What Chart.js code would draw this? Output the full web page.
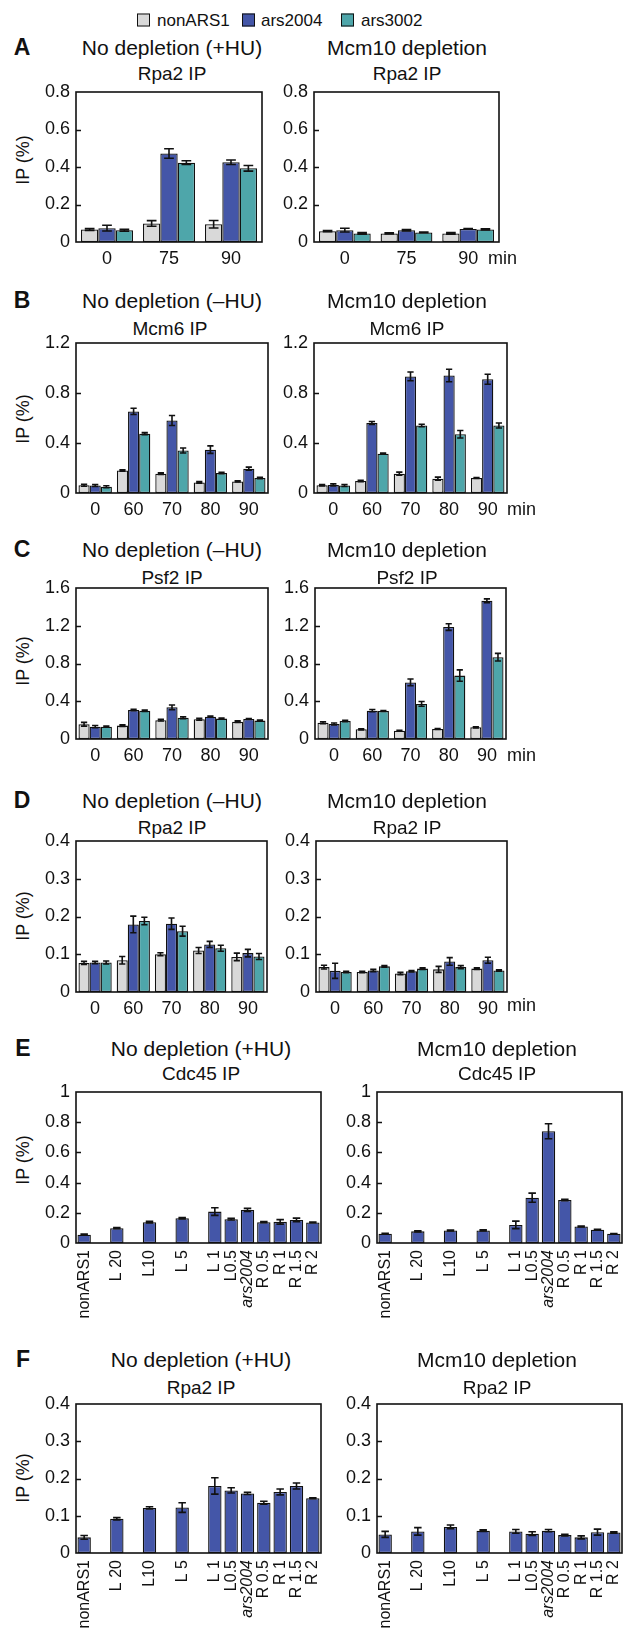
<!DOCTYPE html>
<html>
<head>
<meta charset="utf-8">
<script src="https://cdn.jsdelivr.net/npm/chart.js@4.4.0/dist/chart.umd.min.js"></script>
<style>
body{margin:0;width:623px;height:1631px;overflow:hidden;background:#fff;position:relative;font-family:"Liberation Sans",Arial,sans-serif;color:#111;}
.t{position:absolute;white-space:nowrap;transform:translate(-50%,-50%);line-height:1;}
.tl{position:absolute;white-space:nowrap;transform:translate(0,-50%);line-height:1;}
.title{font-size:21px;}
.sub{font-size:19px;}
.letter{font-size:23px;font-weight:bold;}
.yl{font-size:18px;transform:translate(-50%,-50%) rotate(-90deg);}
.sq{position:absolute;width:11px;height:11px;border:1.5px solid #111;transform:translate(0,-50%);}
canvas{position:absolute;}
</style>
</head>
<body>
<script>
// ---------- categories
const times3 = ['0', '75', '90'];
const times5 = ['0', '60', '70', '80', '90'];
const sites = ['nonARS1', 'L 20', 'L10', 'L 5', 'L 1', 'L0.5', 'ars2004', 'R 0.5', 'R 1', 'R 1.5', 'R 2'];
const siteSlots = [0, 2, 4, 6, 8, 9, 10, 11, 12, 13, 14];

// ---------- A : Rpa2 IP (+HU)
const aL_non = [0.067, 0.099, 0.095],  aL_nonErr = [0.005, 0.015, 0.02];
const aL_2004 = [0.074, 0.472, 0.425], aL_2004Err = [0.015, 0.025, 0.012];
const aL_3002 = [0.063, 0.423, 0.393], aL_3002Err = [0.005, 0.01, 0.015];
const aR_non = [0.058, 0.046, 0.046],  aR_nonErr = [0.003, 0.003, 0.004];
const aR_2004 = [0.063, 0.063, 0.07],  aR_2004Err = [0.01, 0.004, 0.002];
const aR_3002 = [0.046, 0.051, 0.067], aR_3002Err = [0.004, 0.002, 0.003];

// ---------- B : Mcm6 IP
const bL_non = [0.062, 0.18, 0.155, 0.085, 0.093],  bL_nonErr = [0.008, 0.006, 0.006, 0.006, 0.005];
const bL_2004 = [0.06, 0.653, 0.58, 0.347, 0.195],  bL_2004Err = [0.008, 0.025, 0.04, 0.03, 0.012];
const bL_3002 = [0.05, 0.475, 0.34, 0.16, 0.12],    bL_3002Err = [0.008, 0.008, 0.02, 0.005, 0.005];
const bR_non = [0.062, 0.096, 0.155, 0.115, 0.12],  bR_nonErr = [0.006, 0.006, 0.012, 0.012, 0.004];
const bR_2004 = [0.065, 0.56, 0.933, 0.94, 0.91],   bR_2004Err = [0.008, 0.012, 0.035, 0.05, 0.04];
const bR_3002 = [0.06, 0.315, 0.54, 0.47, 0.54],    bR_3002Err = [0.008, 0.004, 0.01, 0.03, 0.02];

// ---------- C : Psf2 IP
const cL_non = [0.156, 0.142, 0.2, 0.209, 0.184],   cL_nonErr = [0.02, 0.008, 0.01, 0.01, 0.008];
const cL_2004 = [0.131, 0.308, 0.336, 0.237, 0.212], cL_2004Err = [0.012, 0.008, 0.025, 0.006, 0.006];
const cL_3002 = [0.131, 0.3, 0.226, 0.216, 0.195],  cL_3002Err = [0.006, 0.008, 0.01, 0.006, 0.006];
const cR_non = [0.173, 0.103, 0.088, 0.106, 0.124], cR_nonErr = [0.01, 0.006, 0.005, 0.006, 0.006];
const cR_2004 = [0.16, 0.3, 0.6, 1.186, 1.465],     cR_2004Err = [0.01, 0.012, 0.035, 0.035, 0.02];
const cR_3002 = [0.19, 0.297, 0.372, 0.672, 0.867], cR_3002Err = [0.008, 0.005, 0.025, 0.06, 0.04];

// ---------- D : Rpa2 IP (-HU)
const dL_non = [0.077, 0.084, 0.1, 0.11, 0.093],    dL_nonErr = [0.004, 0.01, 0.004, 0.008, 0.01];
const dL_2004 = [0.078, 0.179, 0.181, 0.126, 0.103], dL_2004Err = [0.003, 0.022, 0.015, 0.008, 0.01];
const dL_3002 = [0.078, 0.188, 0.161, 0.116, 0.094], dL_3002Err = [0.004, 0.01, 0.013, 0.008, 0.008];
const dR_non = [0.066, 0.053, 0.049, 0.06, 0.062],  dR_nonErr = [0.005, 0.002, 0.003, 0.008, 0.002];
const dR_2004 = [0.056, 0.057, 0.055, 0.081, 0.084], dR_2004Err = [0.02, 0.003, 0.002, 0.01, 0.008];
const dR_3002 = [0.053, 0.068, 0.062, 0.066, 0.057], dR_3002Err = [0.002, 0.002, 0.002, 0.004, 0.002];

// ---------- E : Cdc45 IP, F : Rpa2 IP along ars2004
const eL = [0.055, 0.098, 0.138, 0.164, 0.208, 0.158, 0.219, 0.138, 0.14, 0.153, 0.136];
const eLErr = [0.004, 0.004, 0.005, 0.005, 0.025, 0.006, 0.01, 0.004, 0.015, 0.012, 0.002];
const eR = [0.061, 0.077, 0.083, 0.083, 0.12, 0.3, 0.74, 0.285, 0.11, 0.088, 0.061];
const eRErr = [0.003, 0.003, 0.003, 0.004, 0.025, 0.03, 0.05, 0.005, 0.003, 0.003, 0.002];
const fL = [0.042, 0.092, 0.121, 0.122, 0.18, 0.168, 0.16, 0.135, 0.164, 0.18, 0.147];
const fLErr = [0.005, 0.003, 0.003, 0.013, 0.022, 0.007, 0.003, 0.004, 0.008, 0.008, 0.001];
const fR = [0.05, 0.058, 0.07, 0.06, 0.058, 0.052, 0.06, 0.048, 0.042, 0.056, 0.055];
const fRErr = [0.008, 0.01, 0.005, 0.002, 0.005, 0.005, 0.003, 0.002, 0.004, 0.008, 0.002];

const GREY = '#d9d9d9', BLUE = '#4456a8', TEAL = '#4ea6aa', INK = '#111';
const FONT = '"Liberation Sans", Arial, sans-serif';

// ---------- text helpers
function txt(cls, s, x, y) {
    const d = document.createElement('div');
    d.className = cls;
    d.textContent = s;
    d.style.left = x + 'px';
    d.style.top = y + 'px';
    document.body.appendChild(d);
    return d;
}
function square(color, x, y) {
    const d = document.createElement('div');
    d.className = 'sq';
    d.style.background = color;
    d.style.left = x + 'px';
    d.style.top = y + 'px';
    document.body.appendChild(d);
}

// ---------- plugins: error bars + frame with inner ticks
const errorBars = {
    id: 'errorBars',
    afterDatasetsDraw(chart) {
        const ctx = chart.ctx, y = chart.scales.y;
        ctx.save();
        ctx.strokeStyle = INK;
        ctx.lineWidth = 1.6;
        chart.data.datasets.forEach((ds, di) => {
            const meta = chart.getDatasetMeta(di);
            ds.data.forEach((v, i) => {
                if (v == null || !ds.errors) return;
                const e = ds.errors[i], bar = meta.data[i];
                const cap = bar.width * 0.28;
                const y1 = y.getPixelForValue(v + e), y2 = y.getPixelForValue(v - e);
                ctx.beginPath();
                ctx.moveTo(bar.x, y1); ctx.lineTo(bar.x, y2);
                ctx.moveTo(bar.x - cap, y1); ctx.lineTo(bar.x + cap, y1);
                ctx.moveTo(bar.x - cap, y2); ctx.lineTo(bar.x + cap, y2);
                ctx.stroke();
            });
        });
        ctx.restore();
    }
};
const frame = {
    id: 'frame',
    afterDraw(chart) {
        const ctx = chart.ctx, a = chart.chartArea, y = chart.scales.y;
        ctx.save();
        ctx.strokeStyle = INK;
        ctx.lineWidth = 1.6;
        ctx.strokeRect(a.left, a.top, a.right - a.left, a.bottom - a.top);
        ctx.beginPath();
        y.ticks.forEach(t => {
            if (t.value <= y.min || t.value >= y.max) return;
            const py = Math.round(y.getPixelForValue(t.value)) + 0.5;
            ctx.moveTo(a.left, py); ctx.lineTo(a.left + 5, py);
        });
        ctx.stroke();
        ctx.restore();
    }
};

// ---------- one panel = one canvas whose chart area sits at the plot box
const YW = 60, PT = 14, PR = 3;
function makeChart(box, labels, datasets, yMax, step, opt) {
    const xh = opt.xh, rot = opt.rot || 0;
    const cv = document.createElement('canvas');
    cv.width = YW + box.w + PR;
    cv.height = PT + box.h + xh;
    cv.style.left = (box.x - YW) + 'px';
    cv.style.top = (box.y - PT) + 'px';
    document.body.appendChild(cv);
    return new Chart(cv.getContext('2d'), {
        type: 'bar',
        data: { labels: labels, datasets: datasets },
        options: {
            responsive: false,
            animation: false,
            layout: { padding: { top: PT, right: PR, left: 0, bottom: 0 } },
            datasets: { bar: { categoryPercentage: opt.cat, barPercentage: 1.0, borderWidth: 1.3, borderColor: INK, borderSkipped: false } },
            plugins: { legend: { display: false }, tooltip: { enabled: false } },
            scales: {
                x: {
                    grid: { display: false, drawTicks: false },
                    border: { display: false },
                    ticks: {
                        color: INK, autoSkip: false, maxRotation: rot, minRotation: rot, padding: opt.xpad || 6,
                        font: (c) => ({ family: FONT, size: opt.xfont || 18, style: (c.tick && c.tick.label === 'ars2004') ? 'italic' : 'normal' })
                    },
                    afterFit(s) { s.height = xh; s.paddingLeft = 0; s.paddingRight = 0; }
                },
                y: {
                    min: 0, max: yMax,
                    grid: { display: false, drawTicks: false },
                    border: { display: false },
                    ticks: { stepSize: step, color: INK, padding: 6, font: { family: FONT, size: 18 },
                             callback: (v) => String(+v.toFixed(2)) },
                    afterFit(s) { s.width = YW; s.paddingTop = 0; s.paddingBottom = 0; }
                }
            }
        },
        plugins: [errorBars, frame]
    });
}

function trio(non, nonErr, a2004, a2004Err, a3002, a3002Err) {
    return [
        { label: 'nonARS1', data: non, errors: nonErr, backgroundColor: GREY },
        { label: 'ars2004', data: a2004, errors: a2004Err, backgroundColor: BLUE },
        { label: 'ars3002', data: a3002, errors: a3002Err, backgroundColor: TEAL }
    ];
}

// site positions along the chromosome -> slot table for the category axis
const slotLabels = Array(15).fill('');
siteSlots.forEach((s, i) => { slotLabels[s] = sites[i]; });
function toSlots(arr) {
    const out = Array(15).fill(null);
    siteSlots.forEach((s, i) => { out[s] = arr[i]; });
    return out;
}
function single(vals, errs) {
    return [{ label: 'ars2004 region', data: toSlots(vals), errors: toSlots(errs), backgroundColor: BLUE }];
}

// ---------- legend
square(GREY, 137, 20); txt('tl', 'nonARS1', 157, 20).style.fontSize = '17px';
square(BLUE, 242, 20); txt('tl', 'ars2004', 261, 20).style.fontSize = '17px';
square(TEAL, 341, 20); txt('tl', 'ars3002', 361, 20).style.fontSize = '17px';

// ---------- A
txt('t letter', 'A', 22, 47);
txt('t title', 'No depletion (+HU)', 172, 47);
txt('t sub', 'Rpa2 IP', 172, 73);
txt('t title', 'Mcm10 depletion', 407, 47);
txt('t sub', 'Rpa2 IP', 407, 73);
txt('t yl', 'IP (%)', 23, 160);
makeChart({ x: 76, y: 92, w: 186, h: 150 }, times3, trio(aL_non, aL_nonErr, aL_2004, aL_2004Err, aL_3002, aL_3002Err), 0.8, 0.2, { xh: 30, cat: 0.84 });
makeChart({ x: 314, y: 92, w: 185, h: 150 }, times3, trio(aR_non, aR_nonErr, aR_2004, aR_2004Err, aR_3002, aR_3002Err), 0.8, 0.2, { xh: 30, cat: 0.84 });
txt('tl', 'min', 488, 258).style.fontSize = '18px';

// ---------- B
txt('t letter', 'B', 22, 300);
txt('t title', 'No depletion (\u2013HU)', 172, 300);
txt('t sub', 'Mcm6 IP', 170, 328);
txt('t title', 'Mcm10 depletion', 407, 300);
txt('t sub', 'Mcm6 IP', 407, 328);
txt('t yl', 'IP (%)', 23, 419);
makeChart({ x: 76, y: 343, w: 192, h: 150 }, times5, trio(bL_non, bL_nonErr, bL_2004, bL_2004Err, bL_3002, bL_3002Err), 1.2, 0.4, { xh: 30, cat: 0.87 });
makeChart({ x: 314, y: 343, w: 193, h: 150 }, times5, trio(bR_non, bR_nonErr, bR_2004, bR_2004Err, bR_3002, bR_3002Err), 1.2, 0.4, { xh: 30, cat: 0.87 });
txt('tl', 'min', 507, 509).style.fontSize = '18px';

// ---------- C
txt('t letter', 'C', 22, 549);
txt('t title', 'No depletion (\u2013HU)', 172, 549);
txt('t sub', 'Psf2 IP', 172, 577);
txt('t title', 'Mcm10 depletion', 407, 549);
txt('t sub', 'Psf2 IP', 407, 577);
txt('t yl', 'IP (%)', 23, 661);
makeChart({ x: 76, y: 588, w: 192, h: 151 }, times5, trio(cL_non, cL_nonErr, cL_2004, cL_2004Err, cL_3002, cL_3002Err), 1.6, 0.4, { xh: 30, cat: 0.87 });
makeChart({ x: 315, y: 588, w: 191, h: 151 }, times5, trio(cR_non, cR_nonErr, cR_2004, cR_2004Err, cR_3002, cR_3002Err), 1.6, 0.4, { xh: 30, cat: 0.87 });
txt('tl', 'min', 507, 755).style.fontSize = '18px';

// ---------- D
txt('t letter', 'D', 22, 800);
txt('t title', 'No depletion (\u2013HU)', 172, 800);
txt('t sub', 'Rpa2 IP', 172, 827);
txt('t title', 'Mcm10 depletion', 407, 800);
txt('t sub', 'Rpa2 IP', 407, 827);
txt('t yl', 'IP (%)', 23, 916);
makeChart({ x: 76, y: 841, w: 191, h: 151 }, times5, trio(dL_non, dL_nonErr, dL_2004, dL_2004Err, dL_3002, dL_3002Err), 0.4, 0.1, { xh: 30, cat: 0.87 });
makeChart({ x: 316, y: 841, w: 191, h: 151 }, times5, trio(dR_non, dR_nonErr, dR_2004, dR_2004Err, dR_3002, dR_3002Err), 0.4, 0.1, { xh: 30, cat: 0.87 });
txt('tl', 'min', 507, 1005).style.fontSize = '18px';

// ---------- E
txt('t letter', 'E', 23, 1048);
txt('t title', 'No depletion (+HU)', 201, 1048);
txt('t sub', 'Cdc45 IP', 201, 1073);
txt('t title', 'Mcm10 depletion', 497, 1048);
txt('t sub', 'Cdc45 IP', 497, 1073);
txt('t yl', 'IP (%)', 23, 1160);
makeChart({ x: 76, y: 1092, w: 245, h: 151 }, slotLabels, single(eL, eLErr), 1, 0.2, { xh: 90, cat: 0.82, rot: 90, xfont: 16, xpad: 7 });
makeChart({ x: 377, y: 1092, w: 245, h: 151 }, slotLabels, single(eR, eRErr), 1, 0.2, { xh: 90, cat: 0.82, rot: 90, xfont: 16, xpad: 7 });

// ---------- F
txt('t letter', 'F', 23, 1359);
txt('t title', 'No depletion (+HU)', 201, 1359);
txt('t sub', 'Rpa2 IP', 201, 1387);
txt('t title', 'Mcm10 depletion', 497, 1359);
txt('t sub', 'Rpa2 IP', 497, 1387);
txt('t yl', 'IP (%)', 23, 1478);
makeChart({ x: 76, y: 1404, w: 245, h: 149 }, slotLabels, single(fL, fLErr), 0.4, 0.1, { xh: 90, cat: 0.82, rot: 90, xfont: 16, xpad: 7 });
makeChart({ x: 377, y: 1404, w: 245, h: 149 }, slotLabels, single(fR, fRErr), 0.4, 0.1, { xh: 90, cat: 0.82, rot: 90, xfont: 16, xpad: 7 });
</script>
</body>
</html>
